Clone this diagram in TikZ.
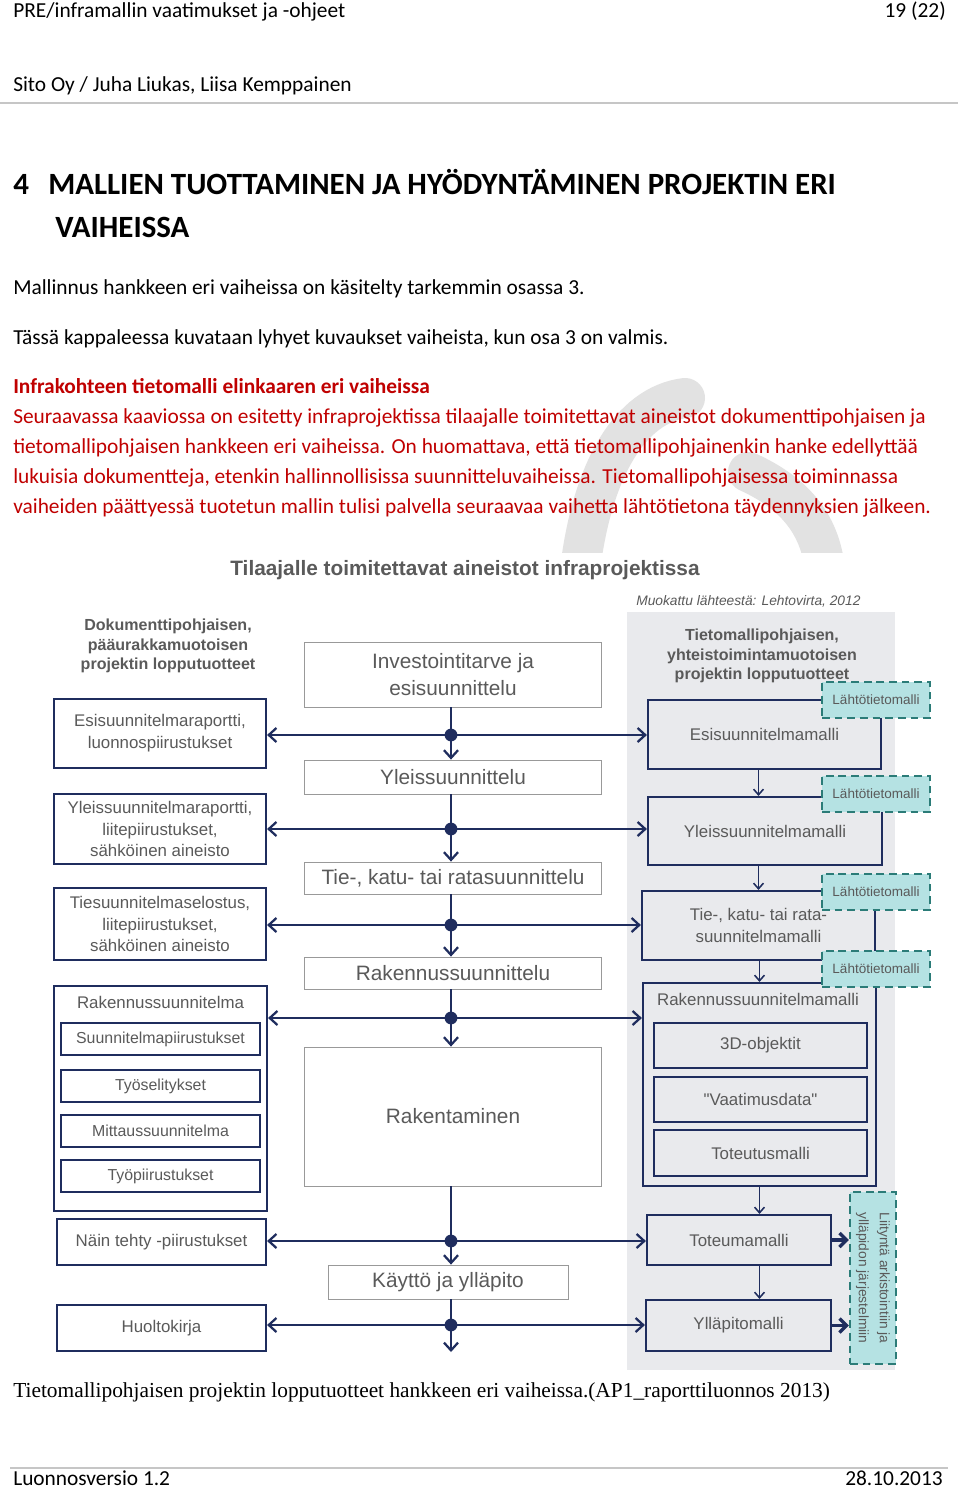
\documentclass[tikz,border=0pt]{standalone}
\usepackage{fontspec}
\usepackage{tikz}
\usetikzlibrary{arrows.meta}
\setmainfont{Carlito}
\newfontfamily\diagfont{Liberation Sans}
\newfontfamily\capfont{Liberation Serif}
\definecolor{navy}{HTML}{1F2D5E}
\definecolor{txtgray}{HTML}{5A5A5A}
\definecolor{panelgray}{HTML}{E9EAED}
\definecolor{tealfill}{HTML}{B5E2E3}
\definecolor{tealline}{HTML}{2B7C78}
\definecolor{darkred}{HTML}{C00000}
\definecolor{wmark}{HTML}{E2E2E2}

\begin{document}
\begin{tikzpicture}[x=0.025cm,y=-0.025cm,
  wh/.style 2 args={minimum width=#1*0.025cm,minimum height=#2*0.025cm},
  pagetxt/.style={anchor=base west,inner sep=0pt,font=\fontsize{15.2}{18}\selectfont},
  headtxt/.style={pagetxt,font=\bfseries\fontsize{22}{26}\selectfont},
  phasebox/.style={draw=gray!80,line width=0.6pt,fill=white,inner sep=0pt,text=txtgray,align=center,font=\diagfont\fontsize{14.8}{19}\selectfont},
  docbox/.style={draw=navy,line width=1.5pt,fill=white,inner sep=0pt,text=txtgray,align=center,font=\diagfont\fontsize{12}{15.6}\selectfont},
  subdocbox/.style={docbox,font=\diagfont\fontsize{11.3}{14}\selectfont},
  modelbox/.style={draw=navy,line width=1.5pt,inner sep=0pt,text=txtgray,align=center,font=\diagfont\fontsize{12}{15}\selectfont},
  srcbox/.style={draw=tealline,fill=tealfill,line width=1.5pt,dash pattern=on 5.5pt off 3.5pt,inner sep=0pt,text=txtgray,font=\diagfont\fontsize{9.6}{12}\selectfont},
  colhead/.style={text=txtgray,align=center,inner sep=0pt,font=\diagfont\bfseries\fontsize{11.4}{13.7}\selectfont},
  flowarrow/.style={navy,line width=1.6pt,-{Straight Barb[length=5.5pt,width=10pt]}},
  flowline/.style={navy,line width=1.6pt},
  modelarrow/.style={navy,line width=1.1pt,-{Straight Barb[length=4pt,width=7pt]}},
  outarrow/.style={navy,line width=2.4pt,-{Straight Barb[length=5pt,width=10pt]}},
  jdot/.style={circle,fill=navy,inner sep=0pt,minimum size=0.32cm},
]
\fill[white] (0,0) rectangle (960,1490);
\useasboundingbox (0,0) rectangle (960,1490);

\begin{scope}
\clip (530,370) rectangle (870,552);
\draw[wmark,line width=1cm,line cap=round] (580,570) .. controls (592,470) and (630,405) .. (685,398);
\draw[wmark,line width=1cm,line cap=round] (748,472) .. controls (792,492) and (820,522) .. (825,570);
\end{scope}

\node[pagetxt] (hdr1) at (13,18) {PRE/inframallin vaatimukset ja -ohjeet};
\node[pagetxt,anchor=base east] (hdr2) at (946,18) {19 (22)};
\node[pagetxt] (hdr3) at (13,92) {Sito Oy / Juha Liukas, Liisa Kemppainen};
\draw[gray!45,line width=1.2pt] (0,103) -- (958,103);

\node[headtxt] (h1) at (13,195) {4};
\node[headtxt] (h2) at (48,195) {MALLIEN TUOTTAMINEN JA HYÖDYNTÄMINEN PROJEKTIN ERI};
\node[headtxt] (h3) at (55,238) {VAIHEISSA};

\node[pagetxt] (p1) at (13,295) {Mallinnus hankkeen eri vaiheissa on käsitelty tarkemmin osassa 3.};
\node[pagetxt] (p2) at (13,344) {Tässä kappaleessa kuvataan lyhyet kuvaukset vaiheista, kun osa 3 on valmis.};
\node[pagetxt,text=darkred,font=\bfseries\fontsize{15.2}{18}\selectfont] (r0) at (13,393) {Infrakohteen tietomalli elinkaaren eri vaiheissa};
\node[pagetxt,text=darkred] (r1) at (13,423) {Seuraavassa kaaviossa on esitetty infraprojektissa tilaajalle toimitettavat aineistot dokumenttipohjaisen ja};
\node[pagetxt,text=darkred] (r2) at (13,453) {tietomallipohjaisen hankkeen eri vaiheissa. On huomattava, että tietomallipohjainenkin hanke edellyttää};
\node[pagetxt,text=darkred] (r3) at (13,483) {lukuisia dokumentteja, etenkin hallinnollisissa suunnitteluvaiheissa. Tietomallipohjaisessa toiminnassa};
\node[pagetxt,text=darkred] (r4) at (13,513) {vaiheiden päättyessä tuotetun mallin tulisi palvella seuraavaa vaihetta lähtötietona täydennyksien jälkeen.};

\node[anchor=base,inner sep=0pt,text=txtgray,font=\diagfont\bfseries\fontsize{14.8}{18}\selectfont] (title) at (465,575) {Tilaajalle toimitettavat aineistot infraprojektissa};
\node[anchor=base west,inner sep=0pt,text=txtgray,font=\diagfont\itshape\fontsize{9.8}{12}\selectfont] (src) at (636,605) {Muokattu lähteestä: Lehtovirta, 2012};

\fill[panelgray] (627,612) rectangle (895,1370);

\node[colhead] (lhead) at (168,646) {Dokumenttipohjaisen,\\pääurakkamuotoisen\\projektin lopputuotteet};
\node[colhead] (rhead) at (762,656) {Tietomallipohjaisen,\\yhteistoimintamuotoisen\\projektin lopputuotteet};

\node[phasebox,wh={297}{65}] (inv) at (453,674.5) {Investointitarve ja\\esisuunnittelu};
\node[phasebox,wh={297}{34}] (yleis) at (453,777) {Yleissuunnittelu};
\node[phasebox,wh={297}{32}] (tie) at (453,878) {Tie-, katu- tai ratasuunnittelu};
\node[phasebox,wh={297}{32}] (rak) at (453,973) {Rakennussuunnittelu};
\node[phasebox,wh={297}{139}] (raken) at (453,1116.5) {Rakentaminen};
\node[phasebox,wh={240}{34}] (kaytto) at (448,1282) {Käyttö ja ylläpito};

\node[docbox,wh={212}{69}] (esir) at (160,733.5) {Esisuunnitelmaraportti,\\luonnospiirustukset};
\node[docbox,wh={212}{70}] (yleisr) at (160,829) {Yleissuunnitelmaraportti,\\liitepiirustukset,\\sähköinen aineisto};
\node[docbox,wh={212}{72}] (tier) at (160,924) {Tiesuunnitelmaselostus,\\liitepiirustukset,\\sähköinen aineisto};
\node[docbox,wh={213}{225}] (rakr) at (160.5,1098.5) {};
\node[text=txtgray,inner sep=0pt,font=\diagfont\fontsize{12}{15}\selectfont] (rakrt) at (160.5,1002) {Rakennussuunnitelma};
\node[subdocbox,wh={199}{32}] (suun) at (160.5,1039) {Suunnitelmapiirustukset};
\node[subdocbox,wh={199}{32}] (tyos) at (160.5,1086) {Työselitykset};
\node[subdocbox,wh={199}{32}] (mitt) at (160.5,1131) {Mittaussuunnitelma};
\node[subdocbox,wh={199}{32}] (tyop) at (160.5,1176) {Työpiirustukset};
\node[docbox,wh={209}{46}] (nain) at (161.5,1242) {Näin tehty -piirustukset};
\node[docbox,wh={209}{46}] (huolto) at (161.5,1328) {Huoltokirja};

\node[modelbox,wh={233}{69}] (esim) at (764.5,734.5) {Esisuunnitelmamalli};
\node[modelbox,wh={234}{68}] (ylem) at (765,831) {Yleissuunnitelmamalli};
\node[modelbox,wh={233}{69}] (tiem) at (758.5,925.5) {Tie-, katu- tai rata-\\suunnitelmamalli};
\node[modelbox,wh={233}{203}] (rakm) at (759.5,1084.5) {};
\node[text=txtgray,inner sep=0pt,font=\diagfont\fontsize{12}{15}\selectfont] (rakmt) at (758,999) {Rakennussuunnitelmamalli};
\node[modelbox,wh={213}{45}] (obj) at (760.5,1045.5) {3D-objektit};
\node[modelbox,wh={213}{45}] (vaat) at (760.5,1099.5) {"Vaatimusdata"};
\node[modelbox,wh={213}{46}] (totu) at (760.5,1153) {Toteutusmalli};
\node[modelbox,wh={184}{50}] (totm) at (739,1240) {Toteumamalli};
\node[modelbox,wh={185}{51}] (yllm) at (738.5,1325.5) {Ylläpitomalli};

\coordinate (j1) at (451,735);
\coordinate (j2) at (451,829);
\coordinate (j3) at (451,925);
\coordinate (j4) at (451,1018);
\coordinate (j5) at (451,1241);
\coordinate (j6) at (451,1325);
\coordinate (jend) at (451,1352);

\draw[flowline] (inv.south -| j1) -- (j1);
\draw[flowarrow] (j1) -- (yleis.north -| j1);
\draw[flowarrow] (j1) -- (esir.east |- j1);
\draw[flowarrow] (j1) -- (esim.west |- j1);
\draw[flowline] (yleis.south -| j2) -- (j2);
\draw[flowarrow] (j2) -- (tie.north -| j2);
\draw[flowarrow] (j2) -- (yleisr.east |- j2);
\draw[flowarrow] (j2) -- (ylem.west |- j2);
\draw[flowline] (tie.south -| j3) -- (j3);
\draw[flowarrow] (j3) -- (rak.north -| j3);
\draw[flowarrow] (j3) -- (tier.east |- j3);
\draw[flowarrow] (j3) -- (tiem.west |- j3);
\draw[flowline] (rak.south -| j4) -- (j4);
\draw[flowarrow] (j4) -- (raken.north -| j4);
\draw[flowarrow] (j4) -- (rakr.east |- j4);
\draw[flowarrow] (j4) -- (rakm.west |- j4);
\draw[flowline] (raken.south -| j5) -- (j5);
\draw[flowarrow] (j5) -- (kaytto.north -| j5);
\draw[flowarrow] (j5) -- (nain.east |- j5);
\draw[flowarrow] (j5) -- (totm.west |- j5);
\draw[flowline] (kaytto.south -| j6) -- (j6);
\draw[flowarrow] (j6) -- (jend);
\draw[flowarrow] (j6) -- (huolto.east |- j6);
\draw[flowarrow] (j6) -- (yllm.west |- j6);
\node[jdot] (d1) at (j1) {};
\node[jdot] (d2) at (j2) {};
\node[jdot] (d3) at (j3) {};
\node[jdot] (d4) at (j4) {};
\node[jdot] (d5) at (j5) {};
\node[jdot] (d6) at (j6) {};

\draw[modelarrow] (esim.south -| tiem.north) -- (ylem.north -| tiem.north);
\draw[modelarrow] (ylem.south -| tiem.north) -- (tiem.north);
\draw[modelarrow] (tiem.south -| rakm.north) -- (rakm.north);
\draw[modelarrow] (rakm.south) -- (rakm.south |- totm.north);
\draw[modelarrow] (rakm.south |- totm.south) -- (rakm.south |- yllm.north);

\node[srcbox,wh={108}{36}] (l1) at (876,700) {Lähtötietomalli};
\node[srcbox,wh={108}{36}] (l2) at (876,794) {Lähtötietomalli};
\node[srcbox,wh={108}{36}] (l3) at (876,892) {Lähtötietomalli};
\node[srcbox,wh={108}{36}] (l4) at (876,969) {Lähtötietomalli};
\node[srcbox,wh={46}{172}] (liit) at (873,1278) {};
\node[rotate=-90,align=center,inner sep=0pt,text=txtgray,font=\diagfont\fontsize{9.8}{15}\selectfont] (liitt) at (873,1278) {Liityntä arkistointiin ja\\ylläpidon järjestelmiin};

\draw[outarrow] (totm.east) -- (totm.east -| liit.west);
\draw[outarrow] (yllm.east) -- (yllm.east -| liit.west);

\node[anchor=base west,inner sep=0pt,font=\capfont\fontsize{15.2}{18}\selectfont] (cap) at (13,1397) {Tietomallipohjaisen projektin lopputuotteet hankkeen eri vaiheissa.(AP1\_raporttiluonnos 2013)};

\draw[gray!45,line width=1.2pt] (10,1468) -- (948,1468);
\node[pagetxt] (ftr1) at (13,1485) {Luonnosversio 1.2};
\node[pagetxt,anchor=base east] (ftr2) at (943,1485) {28.10.2013};
\end{tikzpicture}
\end{document}
